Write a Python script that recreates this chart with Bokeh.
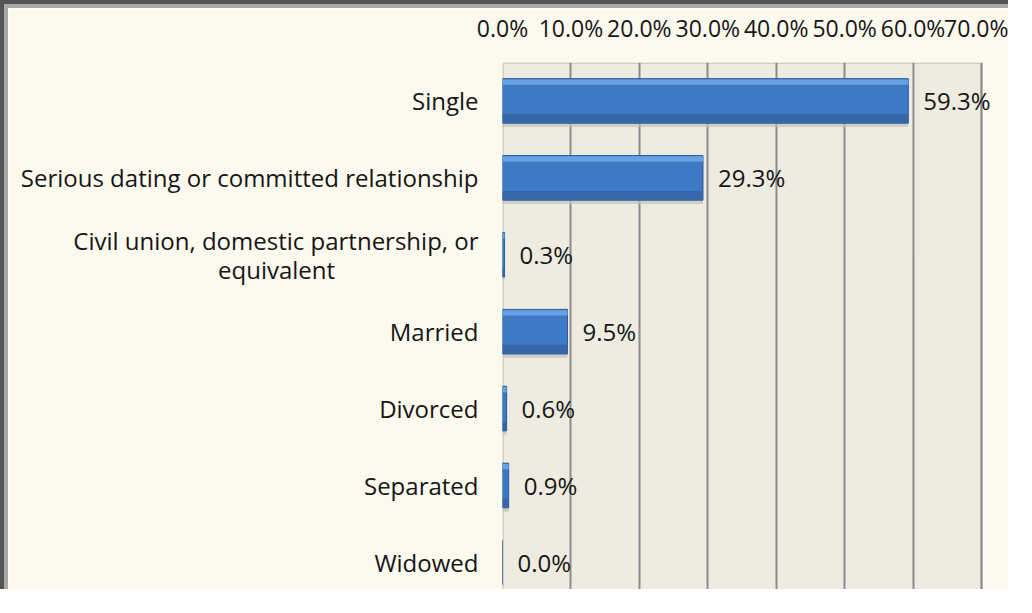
from bokeh.plotting import figure
from bokeh.models import Range1d, FixedTicker, ColumnDataSource, LabelSet, BoxAnnotation
from bokeh.core.properties import value
from bokeh.embed import file_html
from bokeh.resources import INLINE

categories = ["Single", "Serious dating or committed relationship",
              "Civil union, domestic partnership, or\nequivalent",
              "Married", "Divorced", "Separated", "Widowed"]
values = [59.3, 29.3, 0.3, 9.5, 0.6, 0.9, 0.0]
value_labels = ["59.3%", "29.3%", "0.3%", "9.5%", "0.6%", "0.9%", "0.0%"]
x_ticks = [0, 10, 20, 30, 40, 50, 60, 70]
x_tick_labels = ["0.0%", "10.0%", "20.0%", "30.0%", "40.0%", "50.0%", "60.0%", "70.0%"]

FONT = "Open Sans"
FS_CAT = "24px"
FS_TICK = "23px"
FS_VAL = "24px"
TXT = "#161616"
GRID = "#8c8c8c"
NBSP = "\u00a0"
idx = list(range(len(categories)))

B = 8  # css border width
W, H = 1016 - B, 597 - B
LEFT = 502 - B
AXIS_MAX = x_ticks[-1]
plot_px = (W - 35) - LEFT          # pixel width that the 0..70 axis occupies
x_end = AXIS_MAX * (W - LEFT) / plot_px  # frame extends to the right edge (cream area)
Y_TOP, Y_BOT = -0.5, 6.456

p = figure(width=W, height=H, output_backend="svg", toolbar_location=None,
           x_range=Range1d(0, x_end), y_range=Range1d(Y_BOT, Y_TOP),
           x_axis_location="above", min_border_left=LEFT, min_border_right=0,
           min_border_top=62 - B, min_border_bottom=0)
p.styles = {"border-top": f"{B}px groove #a8a8a8", "border-left": f"{B}px groove #a8a8a8"}
p.background_fill_color = "#fcf9ee"
p.border_fill_color = "#fcf9ee"
p.outline_line_color = None

# plot area panel (0% .. 70%), drawn below the grid
p.add_layout(BoxAnnotation(left=x_ticks[0], right=AXIS_MAX, top=Y_TOP, bottom=Y_BOT + 1,
                           fill_color="#eeebe0", fill_alpha=1.0,
                           line_color=GRID, line_width=3, level="image"))

p.xgrid.ticker = FixedTicker(ticks=x_ticks)
p.xgrid.grid_line_color = GRID
p.xgrid.grid_line_width = 2
p.ygrid.grid_line_color = None

xa = p.xaxis[0]
xa.ticker = FixedTicker(ticks=x_ticks)
xa.major_label_overrides = {t: l for t, l in zip(x_ticks, x_tick_labels)}
xa.axis_line_color = None
xa.major_tick_line_color = None
xa.minor_tick_line_color = None
xa.major_tick_out = 0
xa.major_tick_in = 0
xa.major_label_standoff = 19
xa.major_label_text_font = FONT
xa.major_label_text_font_size = FS_TICK
xa.major_label_text_color = TXT

ya = p.yaxis[0]
ya.ticker = FixedTicker(ticks=idx)
overrides = {i: c for i, c in zip(idx, categories)}
first, second = categories[2].split("\n")
overrides[2] = first + "\n" + second + NBSP * 23
ya.major_label_overrides = overrides
ya.axis_line_color = None
ya.major_tick_line_color = None
ya.minor_tick_line_color = None
ya.major_tick_out = 0
ya.major_tick_in = 0
ya.major_label_standoff = 24
ya.major_label_text_font = FONT
ya.major_label_text_font_size = FS_CAT
ya.major_label_text_line_height = 0.87
ya.major_label_text_color = TXT

src = ColumnDataSource(dict(y=idx, v=values, lab=value_labels,
                            y_top=[i - 0.29 for i in idx], y_bot=[i + 0.29 for i in idx],
                            sh_top=[i - 0.25 for i in idx], sh_bot=[i + 0.34 for i in idx],
                            hl_top=[i - 0.28 for i in idx], hl_bot=[i - 0.21 for i in idx],
                            dk_top=[i + 0.17 for i in idx], dk_bot=[i + 0.28 for i in idx]))
# shadow
p.quad(left=0, right="v", top="sh_top", bottom="sh_bot", source=src,
       fill_color="#c4c2b8", fill_alpha=0.7, line_color=None)
# main bar
p.quad(left=0, right="v", top="y_top", bottom="y_bot", source=src,
       fill_color="#3e79c5", line_color="#2c5c9b", line_width=1)
# highlight / dark bands
p.quad(left=0, right="v", top="hl_top", bottom="hl_bot", source=src,
       fill_color="#68a0e2", line_color=None)
p.quad(left=0, right="v", top="dk_top", bottom="dk_bot", source=src,
       fill_color="#3466a8", line_color=None)

labels = LabelSet(x="v", y="y", text="lab", source=src, x_offset=15,
                  text_baseline="middle", text_align="left",
                  text_font=value(FONT), text_font_size=value(FS_VAL), text_color=value(TXT))
p.add_layout(labels)

open("out.html", "w").write(file_html(p, INLINE))
